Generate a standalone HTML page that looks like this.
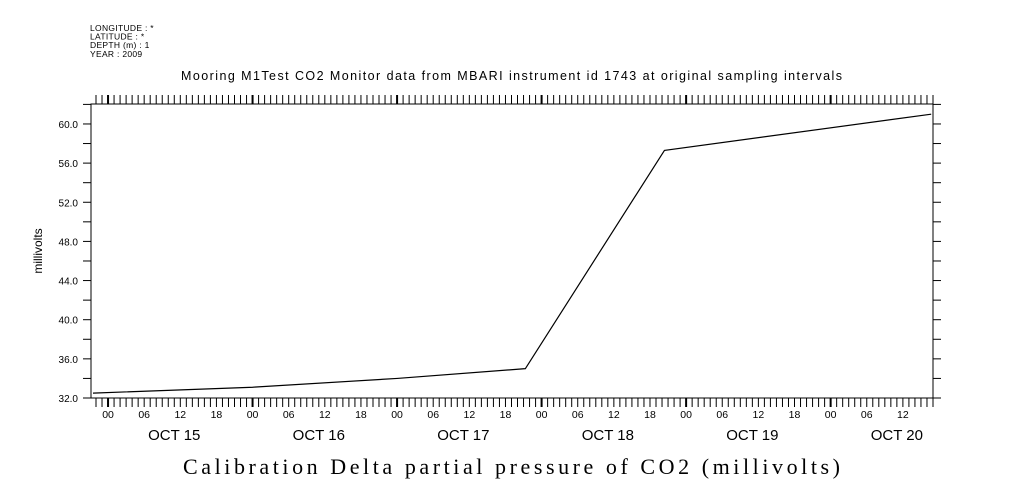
<!DOCTYPE html>
<html><head><meta charset="utf-8"><style>
body{margin:0;background:#fff;}
svg{display:block;font-family:"Liberation Sans",sans-serif;}
</style></head><body>
<svg id="chart" width="1009" height="504" viewBox="0 0 1009 504">
<g font-size="8.5" fill="#000" letter-spacing="0.3">
<text x="90" y="31">LONGITUDE : *</text>
<text x="90" y="39.5">LATITUDE : *</text>
<text x="90" y="48">DEPTH (m) : 1</text>
<text x="90" y="57">YEAR : 2009</text>
</g>
<text x="181" y="80" font-size="12.5" textLength="661" lengthAdjust="spacing">Mooring M1Test CO2 Monitor data from MBARI instrument id 1743 at original sampling intervals</text>
<text transform="translate(42,251) rotate(-90)" font-size="12" text-anchor="middle">millivolts</text>
<text x="183" y="474" font-size="22" font-family="Liberation Serif,serif" textLength="657" lengthAdjust="spacing">Calibration Delta partial pressure of CO2 (millivolts)</text>
<g id="axes"></g>
<g id="plot"></g>
</svg>
<script>
const hours=[-2.5,24,48,69.3,92.4,136.7];
const values=[32.5,33.1,34.0,35.0,57.3,61.0];
const yTicks=[32,36,40,44,48,52,56,60];
const dayLabels=["OCT 15","OCT 16","OCT 17","OCT 18","OCT 19","OCT 20"];
const hourLabels=["00","06","12","18"];

const L=91,R=933,T=104,B=398;
const xMin=-2.83,xMax=137,yMin=32,yMax=62.04;
const xs=h=>L+(h-xMin)/(xMax-xMin)*(R-L);
const ys=v=>B-(v-yMin)/(yMax-yMin)*(B-T);
const NS="http://www.w3.org/2000/svg";
const axes=document.getElementById('axes'),plot=document.getElementById('plot');
function mk(tag,attrs,parent){const e=document.createElementNS(NS,tag);for(const k in attrs)e.setAttribute(k,attrs[k]);parent.appendChild(e);return e;}

const frame=mk('rect',{x:L,y:T,width:R-L,height:B-T,fill:'none',stroke:'#000','stroke-width':1},axes);



for(let v=32;v<=62;v+=2){
  const y=ys(v);
  const t1=mk('line',{x1:L-8,x2:L,y1:y,y2:y,stroke:'#000'},axes);
  
  
  const t2=mk('line',{x1:R,x2:R+8,y1:y,y2:y,stroke:'#000'},axes);
  
  
}
yTicks.forEach(v=>{
  const t=mk('text',{x:L-13,y:ys(v)+4,'font-size':10,'text-anchor':'end'},axes);
  t.textContent=v.toFixed(1);
  
  
});
for(let h=-2;h<=137;h++){
  const x=xs(h);const major=(h%24===0);
  const a=mk('line',{x1:x,x2:x,y1:B,y2:B+9,stroke:'#000','stroke-width':major?2:1},axes);
  
  
  const b=mk('line',{x1:x,x2:x,y1:T-9,y2:T,stroke:'#000','stroke-width':major?2:1},axes);
  
  
}
for(let d=0;d<6;d++){
  hourLabels.forEach((lab,i)=>{
    const h=d*24+i*6; if(h>xMax)return;
    const t=mk('text',{x:xs(h),y:418,'font-size':10.5,'text-anchor':'middle'},axes);
    t.textContent=lab;
    
    
  });
  const t=mk('text',{x:xs(d*24+11),y:440,'font-size':15,'text-anchor':'middle'},axes);
  t.textContent=dayLabels[d];
  
  
}
const pl=mk('polyline',{points:hours.map((h,i)=>xs(h)+','+ys(values[i])).join(' '),fill:'none',stroke:'#000','stroke-width':1.2},plot);


</script>
</body></html>
